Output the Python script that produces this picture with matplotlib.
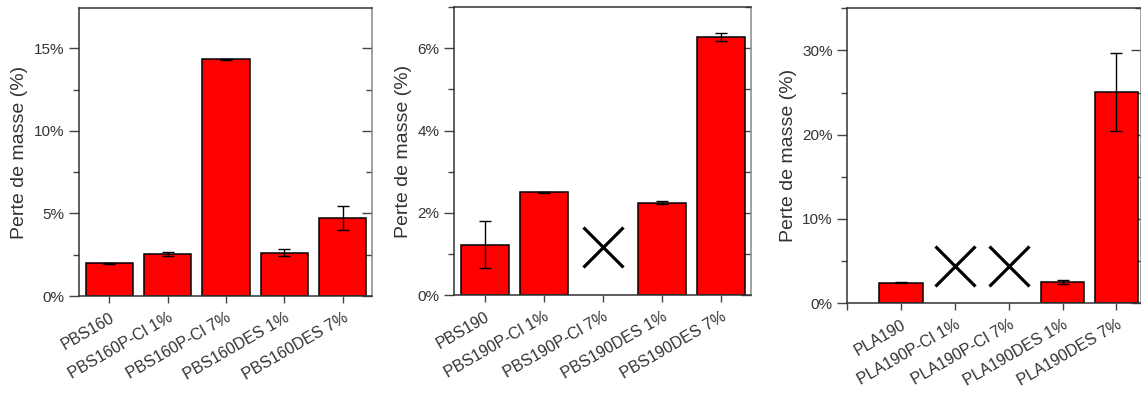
import matplotlib.pyplot as plt
from matplotlib.ticker import FuncFormatter, MultipleLocator

plt.rcParams["font.family"] = ["Liberation Sans", "DejaVu Sans"]

# panel 1
pbs160_labels = ["PBS160", "PBS160P-Cl 1%", "PBS160P-Cl 7%", "PBS160DES 1%", "PBS160DES 7%"]
pbs160_values = [2.0, 2.55, 14.35, 2.62, 4.71]
pbs160_errors = [0.03, 0.1, 0.03, 0.2, 0.72]

# panel 2 (None = sample not measured, drawn as a cross)
pbs190_labels = ["PBS190", "PBS190P-Cl 1%", "PBS190P-Cl 7%", "PBS190DES 1%", "PBS190DES 7%"]
pbs190_values = [1.23, 2.5, None, 2.25, 6.28]
pbs190_errors = [0.57, 0.01, None, 0.03, 0.1]

# panel 3
pla190_labels = ["PLA190", "PLA190P-Cl 1%", "PLA190P-Cl 7%", "PLA190DES 1%", "PLA190DES 7%"]
pla190_values = [2.44, None, None, 2.56, 25.07]
pla190_errors = [0.05, None, None, 0.25, 4.68]

RED = "#ff0000"
TEXT = "#333333"


def pct(v, _pos):
    return f"{v:g}%"


def draw_panel(ax, labels, values, errors, ylim, major, cross_y, xlim=(-0.52, 4.5), extra_left_tick=False):
    xs = list(range(len(labels)))
    for x, v, e in zip(xs, values, errors):
        if v is None:
            ax.plot(x, cross_y, marker="x", color="black", markersize=29, mew=2.3,
                    linestyle="none", zorder=4)
            continue
        ax.bar(x, v, width=0.81, color=RED, edgecolor="black", linewidth=1.1, zorder=2)
        ax.errorbar(x, v, yerr=e, fmt="none", ecolor="black", elinewidth=1,
                    capsize=4, capthick=1, zorder=3)

    ax.set_xlim(*xlim)
    ax.set_ylim(*ylim)
    ax.yaxis.set_major_locator(MultipleLocator(major))
    ax.yaxis.set_minor_locator(MultipleLocator(major / 2))
    ax.yaxis.set_major_formatter(FuncFormatter(pct))

    if extra_left_tick:
        ax.set_xticks([-1] + xs)
        ax.set_xticklabels([""] + labels)
    else:
        ax.set_xticks(xs)
        ax.set_xticklabels(labels)
    for lab in ax.get_xticklabels():
        lab.set_rotation(30)
        lab.set_ha("right")
        lab.set_rotation_mode("anchor")
        lab.set_fontsize(11.5)

    ax.set_ylabel("Perte de masse (%)", fontsize=14, color=TEXT)
    ax.tick_params(axis="both", colors=TEXT)
    ax.tick_params(axis="y", labelsize=11)
    ax.tick_params(axis="y", which="major", direction="out", length=7, width=1, color="#444444")
    ax.tick_params(axis="y", which="minor", direction="out", length=4, width=1, color="#444444")
    ax.tick_params(axis="x", direction="out", length=5, width=1, color="#444444", pad=5)
    for side in ("left", "bottom", "top"):
        ax.spines[side].set_color(TEXT)
        ax.spines[side].set_linewidth(1.1)
    ax.spines["right"].set_visible(False)

    # right-hand ticks point inward
    sec = ax.secondary_yaxis("right")
    sec.yaxis.set_major_locator(MultipleLocator(major))
    sec.yaxis.set_minor_locator(MultipleLocator(major / 2))
    sec.tick_params(which="major", direction="in", length=7, width=1, color="#444444", labelright=False)
    sec.tick_params(which="minor", direction="in", length=4, width=1, color="#444444")
    sec.spines["right"].set_color("#888888")
    sec.spines["right"].set_linewidth(1.1)


fig = plt.figure(figsize=(11.41, 3.95), dpi=100)

ax1 = fig.add_axes([0.0692, 0.2506, 0.2568, 0.7291])
draw_panel(ax1, pbs160_labels, pbs160_values, pbs160_errors, (0, 17.45), 5, None)

ax2 = fig.add_axes([0.3979, 0.2524, 0.2603, 0.7299])
draw_panel(ax2, pbs190_labels, pbs190_values, pbs190_errors, (0, 7.0), 2, 1.18)

ax3 = fig.add_axes([0.7426, 0.2322, 0.2570, 0.7468])
draw_panel(ax3, pla190_labels, pla190_values, pla190_errors, (0, 35), 10, 4.45,
           xlim=(-1, 4.45), extra_left_tick=True)

fig.savefig("out.png", dpi=100)
